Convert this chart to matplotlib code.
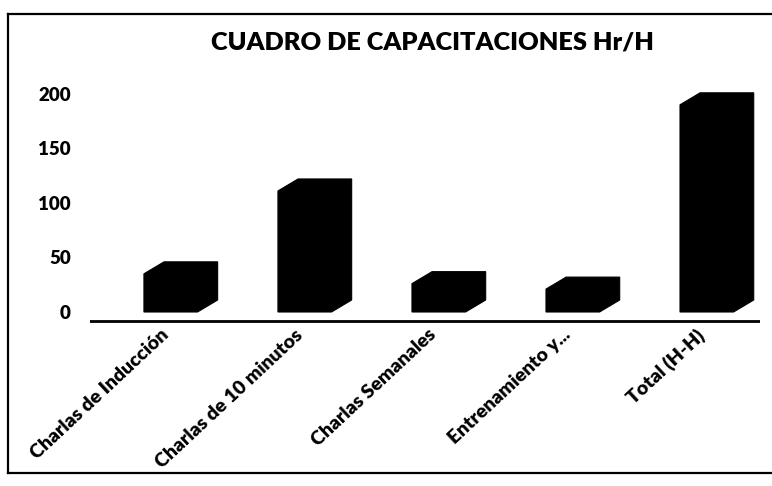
import numpy as np
import matplotlib.pyplot as plt
from matplotlib.patches import Polygon
from matplotlib.lines import Line2D

# Horas-hombre de capacitación por tipo
categorias = ['Charlas de Inducción', 'Charlas de 10 minutos', 'Charlas Semanales',
              'Entrenamiento y...', 'Total (H-H)']
horas = [35, 111, 26, 21, 190]
yticks = [0, 50, 100, 150, 200]

plt.rcParams['font.family'] = ['Lato', 'DejaVu Sans']

fig = plt.figure(figsize=(7.72, 4.86), dpi=100)
ax = fig.add_axes([0.117, 0.3356, 0.868, 0.4824])

ancho = 0.4      # ancho de la cara frontal
dx, dy = 0.15, 11  # profundidad simulada de la barra

for i, v in enumerate(horas):
    x0, x1 = i - ancho / 2, i + ancho / 2
    pts = [(x0, 0), (x0, v), (x0 + dx, v + dy), (x1 + dx, v + dy),
           (x1 + dx, dy), (x1, 0)]
    ax.add_patch(Polygon(pts, closed=True, facecolor='black', edgecolor='black', lw=0.8))

ax.axhline(-8.5, color='black', lw=2)
ax.set_xlim(-0.6, 4.4)
ax.set_ylim(-10, 205)

ax.set_yticks(yticks)
ax.set_yticklabels([str(t) for t in yticks], fontsize=13.5, fontweight='heavy')
ax.tick_params(axis='y', length=0, pad=14)
ax.set_xticks([])
for s in ax.spines.values():
    s.set_visible(False)

for i, c in enumerate(categorias):
    ax.text(i - 0.08, -13, c, rotation=43, ha='right', va='top',
            rotation_mode='anchor', fontsize=14, fontweight='heavy')

fig.text(0.56, 0.912, 'CUADRO DE CAPACITACIONES Hr/H', ha='center', va='center',
         fontsize=18.3, fontweight='heavy')

# marco del gráfico
for xs, ys in [([8, 8], [14, 473]), ([8, 772], [14, 14]), ([8, 772], [473, 473])]:
    fig.add_artist(Line2D([x / 772 for x in xs], [1 - y / 486 for y in ys],
                          color='black', lw=1.6))

fig.savefig('out.png', dpi=100)
